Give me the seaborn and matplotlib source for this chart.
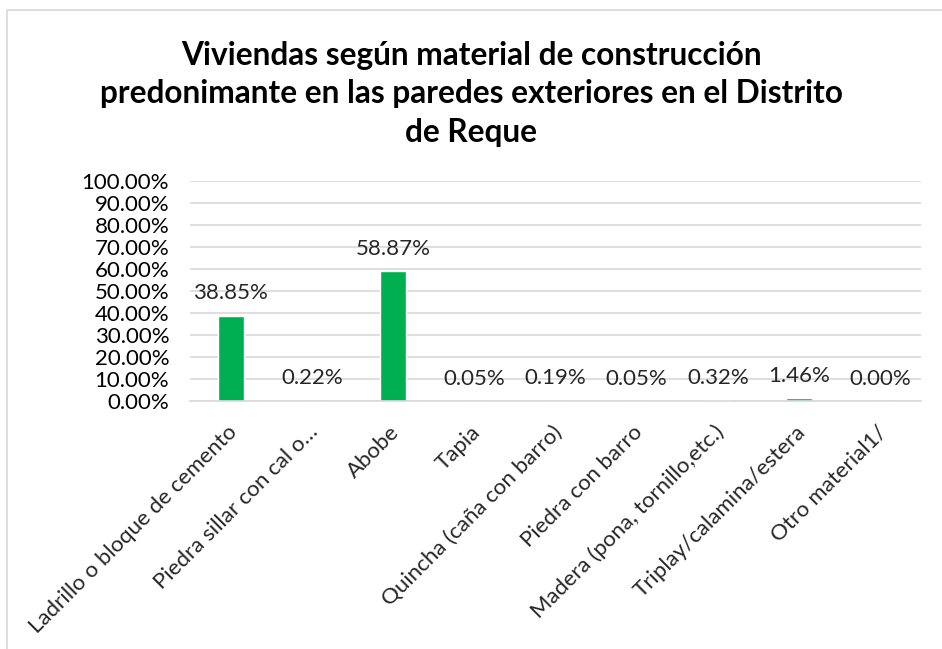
import pandas as pd
import numpy as np
import matplotlib
matplotlib.use("Agg")
import matplotlib.pyplot as plt
import matplotlib.patches as patches
from matplotlib.ticker import FuncFormatter, FixedLocator
import matplotlib.transforms as mtransforms
import seaborn as sns

materiales = ["Ladrillo o bloque de cemento", "Piedra sillar con cal o\u2026", "Abobe", "Tapia",
              "Quincha (caña con barro)", "Piedra con barro", "Madera (pona, tornillo,etc.)",
              "Triplay/calamina/estera", "Otro material1/"]
porcentaje = [38.85, 0.22, 58.87, 0.05, 0.19, 0.05, 0.32, 1.46, 0.00]
titulo = "Viviendas según material de construcción\npredonimante en las paredes exteriores en el Distrito\nde Reque"

sns.set_theme(style="white")
plt.rcParams['font.family'] = ['Lato', 'DejaVu Sans']

df = pd.DataFrame({"material": materiales, "pct": porcentaje})

fig = plt.figure(figsize=(9.42, 6.49), dpi=100)
ax = fig.add_axes([190/942, 1-401/649, (921-190)/942, 220/649])

# borde del grafico (como en excel)
fig.patches.append(patches.Rectangle((7/942, -0.1), 1.2, 1-10/649+0.1, transform=fig.transFigure,
                                     fill=False, edgecolor="#D9D9D9", linewidth=1.2))

sns.barplot(x="material", y="pct", data=df, color="#00B050", width=0.32, ax=ax, saturation=1)

ax.set_ylim(0, 100)
ax.set_xlim(-0.5, len(materiales)-0.5)
ax.yaxis.set_major_locator(FixedLocator(np.arange(0, 101, 10)))
ax.yaxis.set_major_formatter(FuncFormatter(lambda v, p: "{:.2f}%".format(v)))
ax.grid(axis="y", color="#D9D9D9", linewidth=1.2)
ax.set_axisbelow(True)
for s in ["left", "top", "right"]:
    ax.spines[s].set_visible(False)
ax.spines["bottom"].set_color("#D9D9D9")
ax.spines["bottom"].set_linewidth(1.2)

ax.tick_params(axis="y", length=0, labelsize=16, pad=15, labelcolor="black")
ax.set_xticks(range(len(materiales)))
ax.set_xticklabels(materiales, rotation=45, ha="right", rotation_mode="anchor", fontsize=16)
ax.tick_params(axis="x", which="major", length=0, pad=15)
shift = mtransforms.ScaledTranslation(-4/100, 0, fig.dpi_scale_trans)
for lbl in ax.get_xticklabels():
    lbl.set_transform(lbl.get_transform() + shift)
ax.set_xticks(np.arange(-0.5, len(materiales)), minor=True)
ax.tick_params(axis="x", which="minor", length=6, color="#D9D9D9", width=1.2, direction="out")
ax.set_xlabel("")
ax.set_ylabel("")

for i, v in enumerate(porcentaje):
    ax.annotate("{:.2f}%".format(v), (i, v), xytext=(0, 16), textcoords="offset points",
                ha="center", va="center", fontsize=16, color="#262626")

fig.text(0.5, 1-94/649, titulo, ha="center", va="center", fontsize=22.8, fontweight="bold",
         linespacing=1.4, color="black")

fig.savefig("out.png", dpi=100)
